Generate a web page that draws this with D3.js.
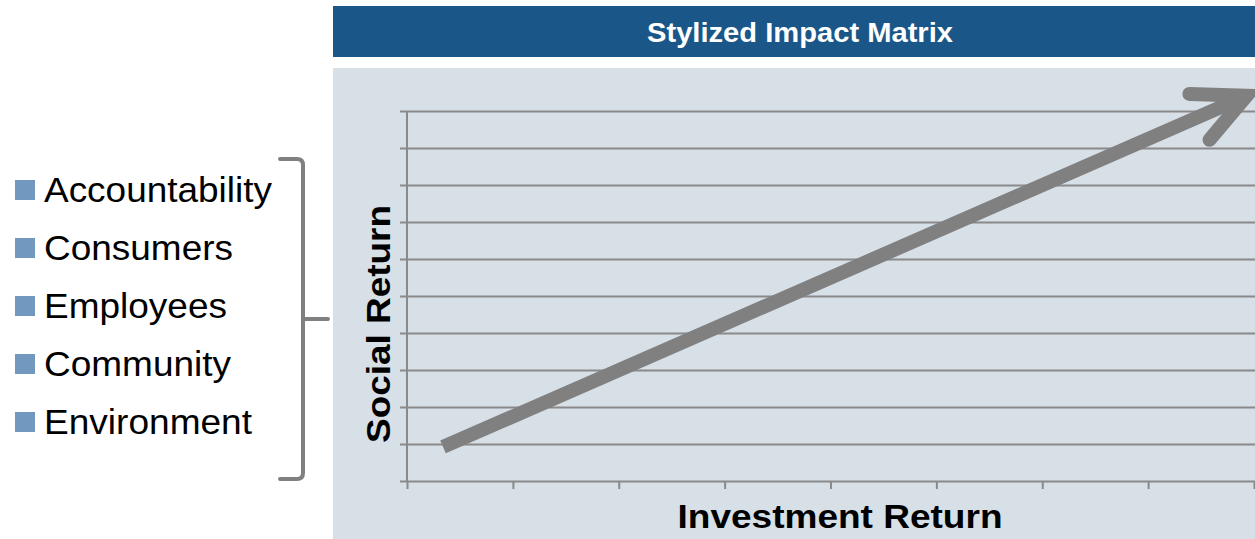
<!DOCTYPE html>
<html><head><meta charset="utf-8">
<script src="https://cdn.jsdelivr.net/npm/d3@7/dist/d3.min.js"></script>
<style>body{margin:0;background:#fff}svg{display:block}text{font-family:"Liberation Sans",Arial,sans-serif}</style>
</head><body>
<svg id="c" width="1255" height="539"></svg>
<script>
const title = "Stylized Impact Matrix";
const legendItems = ["Accountability","Consumers","Employees","Community","Environment"];
const legendWidths = [228,189,183,187,208];
const xTicks = [0,1,2,3,4,5,6,7,8];
const yTicks = [0,1,2,3,4,5,6,7,8,9,10];
const xLabel = "Investment Return";
const yLabel = "Social Return";
const arrowShaft = [[0.34,0.92],[7.93,10.41]];
const arrowHead = [[7.39,10.46],[7.93,10.41],[7.58,9.22]];

const svg = d3.select("#c");
const grey = "#808080";
function fit(sel, len){ sel.attr("textLength", len).attr("lengthAdjust","spacingAndGlyphs"); }

// title bar
svg.append("rect").attr("x",333).attr("y",6).attr("width",922).attr("height",51).attr("fill","#1a5788");
svg.append("text").attr("x",800).attr("y",42).attr("text-anchor","middle").attr("fill","#fff")
  .attr("font-weight","bold").attr("font-size",27).text(title).call(fit,306);

// panel
svg.append("rect").attr("x",333).attr("y",68).attr("width",922).attr("height",471).attr("fill","#d7dfe7");

const x = d3.scaleLinear().domain([0,8]).range([407,1254]);
const y = d3.scaleLinear().domain([0,10]).range([481,111]);

// grid lines + y ticks
svg.append("g").attr("transform","translate(407,0)")
  .call(d3.axisLeft(y).tickValues(yTicks).tickSize(-848).tickSizeOuter(0).tickFormat(""))
  .call(g=>g.select(".domain").remove())
  .call(g=>g.selectAll(".tick line").attr("x1",-7).attr("stroke","#8a8a8a").attr("stroke-width",2));
svg.append("line").attr("x1",407).attr("x2",407).attr("y1",y(10)).attr("y2",y(0)).attr("stroke","#8a8a8a").attr("stroke-width",2);
svg.append("g").attr("transform","translate(0,481)")
  .call(d3.axisBottom(x).tickValues(xTicks).tickSize(8).tickSizeOuter(0).tickFormat(""))
  .call(g=>g.select(".domain").remove())
  .call(g=>g.selectAll(".tick line").attr("stroke","#8a8a8a").attr("stroke-width",2));

// arrow
svg.append("line").attr("x1",x(arrowShaft[0][0])).attr("y1",y(arrowShaft[0][1]))
  .attr("x2",x(arrowShaft[1][0])).attr("y2",y(arrowShaft[1][1]))
  .attr("stroke",grey).attr("stroke-width",14).attr("stroke-linecap","butt");
svg.append("path").attr("d",d3.line().x(d=>x(d[0])).y(d=>y(d[1]))(arrowHead))
  .attr("fill","none").attr("stroke",grey).attr("stroke-width",14)
  .attr("stroke-linecap","round").attr("stroke-linejoin","miter").attr("stroke-miterlimit",10);

// axis labels
svg.append("text").attr("x",840).attr("y",528).attr("text-anchor","middle").attr("font-weight","bold")
  .attr("font-size",33).attr("fill","#000").text(xLabel).call(fit,325);
svg.append("text").attr("transform","translate(390,324) rotate(-90)").attr("text-anchor","middle")
  .attr("font-weight","bold").attr("font-size",33).attr("fill","#000").text(yLabel).call(fit,238);

// legend
const rows = svg.append("g").selectAll("g").data(legendItems).join("g")
  .attr("transform",(d,i)=>`translate(0,${190+i*58})`);
rows.append("rect").attr("x",15).attr("y",-10).attr("width",20).attr("height",20).attr("fill","#7398bf");
rows.append("text").attr("x",44).attr("y",12).attr("font-size",35).attr("fill","#000").text(d=>d)
  .each(function(d,i){ d3.select(this).call(fit, legendWidths[i]); });

// brace
svg.append("path").attr("d","M280,159 L297,159 Q303,159 303,165 L303,473 Q303,479 297,479 L280,479 M303,319 L328,319")
  .attr("fill","none").attr("stroke",grey).attr("stroke-width",4).attr("stroke-linecap","round");
</script>
</body></html>
